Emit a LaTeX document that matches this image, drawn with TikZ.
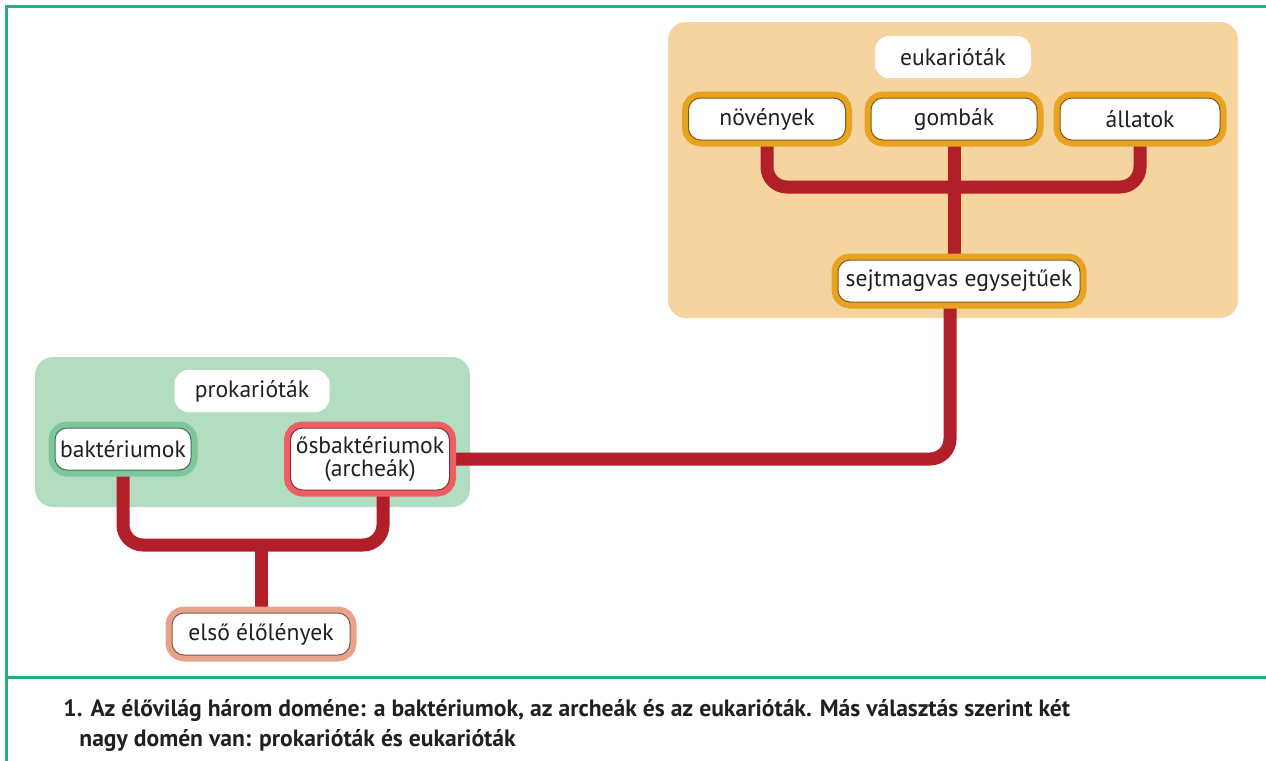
\documentclass[tikz,border=0pt]{standalone}
\usepackage{xcolor}
\usepackage{fontspec}
\setmainfont{PT Sans}
\newfontfamily\capfont{PT Sans}
\usetikzlibrary{positioning,backgrounds}

\definecolor{txtgray}{HTML}{231F20}
\definecolor{eupanel}{HTML}{F5D4A0}
\definecolor{propanel}{HTML}{B2DDC1}
\definecolor{frameorg}{HTML}{E9A323}
\definecolor{framegrn}{HTML}{7DC79B}
\definecolor{framered}{HTML}{EE5E63}
\definecolor{framesal}{HTML}{E9A28A}
\definecolor{branchred}{HTML}{B31F29}
\definecolor{edgegreen}{HTML}{20B27A}

\tikzset{
  tag/.style = {fill=white, rounded corners=7pt, minimum height=21pt, text=txtgray},
  leaf/.style = {fill=white, draw=#1!55!black, line width=0.5pt,
    preaction={draw=#1, line width=6.5pt}, rounded corners=6pt,
    minimum height=21pt, inner sep=2pt, text=txtgray},
  branch/.style = {draw=branchred, line width=6.5pt, rounded corners=10pt},
  caption/.style = {anchor=base west, inner sep=0pt, text=txtgray,
    font=\capfont\bfseries\fontsize{11.8}{13}\selectfont},
}

\begin{document}
\begin{tikzpicture}[x=0.5pt, y=-0.5pt, font=\fontsize{11.8}{13}\selectfont]
  \useasboundingbox (0,0) rectangle (1266,761);

  \begin{scope}[on background layer]
    \fill[eupanel, rounded corners=9pt] (668,22) rectangle (1238,318);
    \fill[propanel, rounded corners=9pt] (35,357) rectangle (470,507);
  \end{scope}

  \draw[edgegreen, line width=1.5pt] (1266,6) -- (6,6) -- (6,761)
    (6,677) -- (1266,677);

  % eukaryotes
  \node[tag, minimum width=78pt] (euk) at (953,57) {eukarióták};
  \node[leaf=frameorg, minimum width=78.5pt] (noveny) at (767,119) {növények};
  \node[leaf=frameorg, minimum width=83pt] (gomba) at (954,119) {gombák};
  \node[leaf=frameorg, minimum width=80pt] (allat) at (1140,119) {állatok};
  \node[leaf=frameorg, minimum width=121pt] (sejt) at (959,281) {sejtmagvas egysejtűek};

  % prokaryotes
  \node[tag, minimum width=77.5pt] (prok) at (252,391) {prokarióták};
  \node[leaf=framegrn, minimum width=68pt] (bakt) at (123,449) {baktériumok};
  \node[leaf=framered, minimum width=79.5pt, minimum height=31pt, align=center,
    font=\fontsize{11.8}{11.5}\selectfont] (osbakt) at (370,459) {ősbaktériumok\\(archeák)};
  \node[leaf=framesal, minimum width=89pt] (elso) at (261,634) {első élőlények};

  \coordinate (ebar) at (953,187);
  \coordinate (pbar) at (261,545);

  \begin{scope}[on background layer]
    \draw[branch] (noveny.south) |- (ebar) -| (allat.south);
    \draw[branch] (gomba.south) -- (gomba.south |- sejt.north);
    \draw[branch] ([xshift=-4.5pt]sejt.south) |- (osbakt.east);
    \draw[branch] (bakt.south) |- (pbar) -| ([xshift=6.5pt]osbakt.south);
    \draw[branch] (pbar) -- (elso.north);
  \end{scope}

  \node[caption] (cap1) at (63,716) {1. Az élővilág három doméne: a baktériumok, az archeák és az eukarióták. Más választás szerint két};
  \node[caption] (cap2) at (79,746) {nagy domén van: prokarióták és eukarióták};
\end{tikzpicture}
\end{document}
